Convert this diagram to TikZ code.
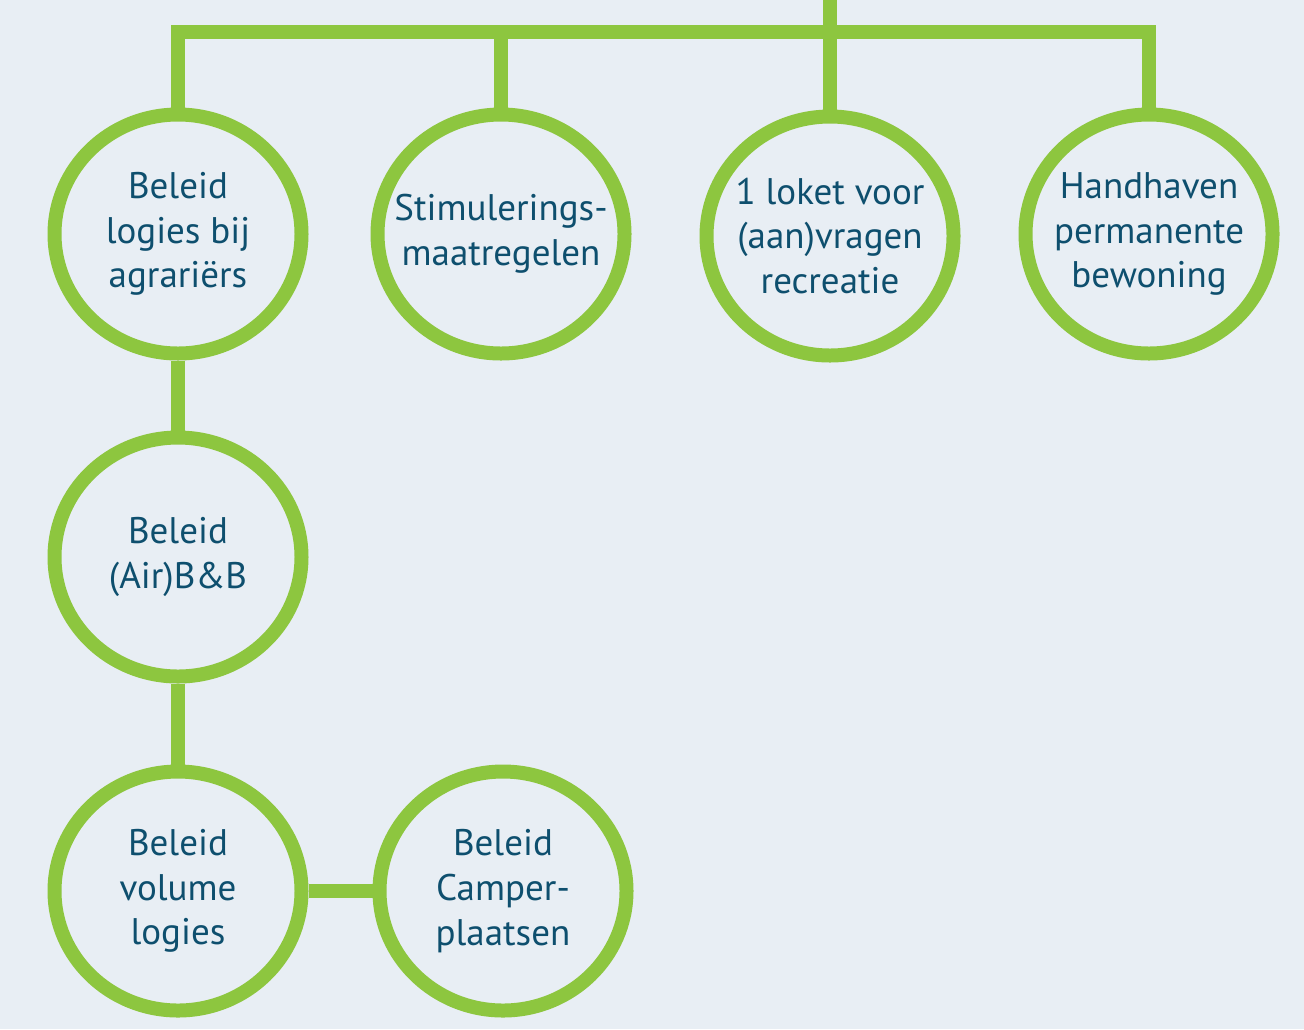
\documentclass[tikz,border=0pt]{standalone}
\usepackage{fontspec}
\setmainfont{PT Sans}
\usetikzlibrary{shapes.geometric, positioning}
\definecolor{leafgreen}{RGB}{141,198,63}
\definecolor{paleblue}{RGB}{232,238,244}
\definecolor{inkblue}{RGB}{14,79,110}

\begin{document}
\begin{tikzpicture}[x=0.5pt, y=-0.5pt,
    bubble/.style={ellipse, draw=leafgreen, line width=7pt, inner sep=0pt,
        minimum width=123.5pt, minimum height=119.5pt},
    txt/.style={align=center, text=inkblue, inner sep=0pt,
        font=\fontsize{18.5}{22.3}\selectfont},
    link/.style={draw=leafgreen, line width=7pt, line join=miter}]
    % Background
    \fill[paleblue] (0,0) rectangle (1304,1029);
    \useasboundingbox (0,0) rectangle (1304,1029);

    % Top row
    \node[bubble, label={[txt]center:Beleid\\logies bij\\agrariërs}] (logies) at (178,234) {};
    \node[bubble, label={[txt]center:Stimulerings-\\maatregelen}] (stimulering) at (501,234) {};
    \node[bubble, label={[txt]center:1 loket voor\\(aan)vragen\\recreatie}] (loket) at (830,236) {};
    \node[bubble, label={[txt]center:Handhaven\\permanente\\bewoning}] (handhaven) at (1149,234) {};

    % Left column
    \node[bubble, label={[txt]center:Beleid\\(Air)B\&B}] (airbnb) at (178,557) {};
    \node[bubble, label={[txt]center:Beleid\\volume\\logies}] (volume) at (178,891) {};
    \node[bubble, label={[txt]center:Beleid\\Camper-\\plaatsen}] (camper) at (503,891) {};

    % Top bar
    \coordinate (trunk) at (830,0);
    \coordinate (bar) at (830,32);
    \draw[link] (trunk) -- (bar);
    \draw[link] (logies.north) |- (bar) -| (handhaven.north);
    \draw[link] (stimulering.north) -- (stimulering.north |- bar);
    \draw[link] (loket.north) -- (loket.north |- bar);

    % Chain
    \draw[link] (logies.south) -- (airbnb.north);
    \draw[link] (airbnb.south) -- (volume.north);
    \draw[link] (volume.east) -- (camper.west);
\end{tikzpicture}
\end{document}
